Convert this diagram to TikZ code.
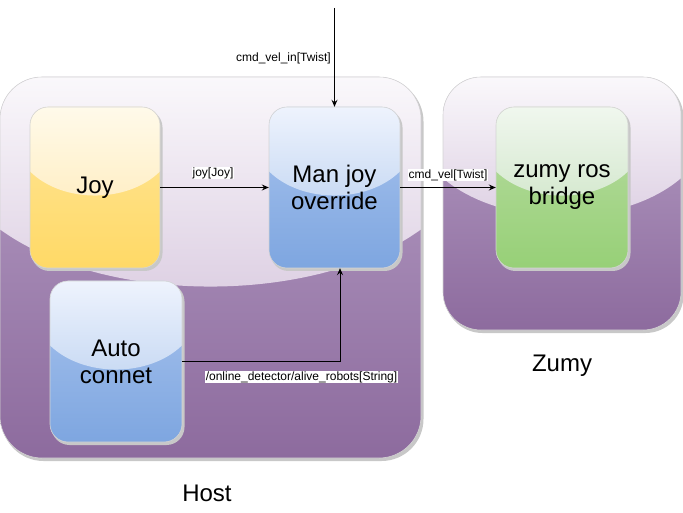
\documentclass[tikz,border=0pt]{standalone}
\usepackage{fontspec}
\setmainfont{Liberation Sans}
\usetikzlibrary{arrows.meta,calc}
\definecolor{shadowcol}{HTML}{C8C8C8}
\definecolor{edgecol}{HTML}{D4D4D4}
% purple container
\definecolor{pA}{HTML}{FAF8FB}\definecolor{pB}{HTML}{DCCEE2}
\definecolor{pC}{HTML}{B59EC4}\definecolor{pD}{HTML}{8D6B9E}
% yellow
\definecolor{yA}{HTML}{FFFAEA}\definecolor{yB}{HTML}{FFEEC4}
\definecolor{yC}{HTML}{FFE69A}\definecolor{yD}{HTML}{FFD966}
% blue
\definecolor{bA}{HTML}{EEF3FD}\definecolor{bB}{HTML}{C7D9F3}
\definecolor{bC}{HTML}{A9C4EE}\definecolor{bD}{HTML}{7EA6E0}
% green
\definecolor{gA}{HTML}{F0F7EE}\definecolor{gB}{HTML}{D4E8CE}
\definecolor{gC}{HTML}{B9DCA3}\definecolor{gD}{HTML}{97D077}
\newcommand{\glassbox}[9]{%
  \pgfmathsetmacro\gh{#4-#2}%
  \pgfmathsetmacro\gw{#3-#1}%
  \pgfmathsetmacro\gys{#2+0.4*\gh}%
  \pgfmathsetmacro\gyc{\gys+0.2*\gh}%
  \fill[shadowcol,rounded corners=#5] (#1+1.5,#2+2.5) rectangle (#3+2.5,#4+3);
  \shade[top color=#8,bottom color=#9,rounded corners=#5] (#1,#2) rectangle (#3,#4);
  \begin{scope}
    \clip[rounded corners=#5] (#1,#2) rectangle (#3,#4);
    \shade[top color=#6,bottom color=#7] (#1,#2) -- (#3,#2) -- (#3,\gys)
      .. controls (#3-0.25*\gw,\gyc) and (#1+0.25*\gw,\gyc) .. (#1,\gys) -- cycle;
  \end{scope}
  \draw[edgecol,line width=0.6pt,rounded corners=#5] (#1,#2) rectangle (#3,#4);
}
\tikzset{
  boxtext/.style={inner sep=0pt,align=center,font=\fontsize{24}{27}\selectfont},
  grouptext/.style={font=\fontsize{24}{28}\selectfont,inner sep=1pt},
  lbl/.style={fill=white,inner sep=0.5pt,font=\fontsize{12}{14}\selectfont},
  conn/.style={draw=black,line width=1pt,-{Stealth[length=7pt,width=6pt,inset=2.5pt]}},
}
\begin{document}
\begin{tikzpicture}[x=1pt,y=-1pt]
\useasboundingbox (0,0) rectangle (683,513);
% containers
\glassbox{0}{77}{421}{458}{42pt}{pA}{pB}{pC}{pD}
\glassbox{443}{77}{681}{330}{38pt}{pA}{pB}{pC}{pD}
% inner boxes
\glassbox{30}{107}{160}{268}{18pt}{yA}{yB}{yC}{yD}
\glassbox{269}{107}{400}{268}{18pt}{bA}{bB}{bC}{bD}
\glassbox{50}{281}{182}{442}{18pt}{bA}{bB}{bC}{bD}
\glassbox{496}{107}{628}{268}{18pt}{gA}{gB}{gC}{gD}
% text nodes
\node[boxtext,minimum width=130pt,minimum height=161pt] (joy) at (95,187.5) {Joy};
\node[boxtext,minimum width=131pt,minimum height=161pt] (man) at (334.5,187.5) {Man joy\\override};
\node[boxtext,minimum width=132pt,minimum height=161pt] (auto) at (116,361.5) {Auto\\connet};
\node[boxtext,minimum width=132pt,minimum height=161pt] (zumy) at (562,187.5) {zumy ros\\bridge};
\node[grouptext] (host) at (207,493) {Host};
\node[grouptext] (zumyg) at (562,366) {Zumy};
% connectors
\coordinate (src) at (334.5,8);
\draw[conn] (src) -- (man.north);
\node[lbl,anchor=east] (l1) at (331.5,58) {cmd\_vel\_in[Twist]};
\draw[conn] (joy.east) -- (man.west);
\node[lbl] (l2) at (213,173) {joy[Joy]};
\draw[conn] (man.east) -- (zumy.west);
\node[lbl] (l3) at (448,175) {cmd\_vel[Twist]};
\draw[conn] (auto.east) -| ([xshift=5.5pt]man.south);
\node[lbl] (l4) at (301.5,377) {/online\_detector/alive\_robots[String]};
\end{tikzpicture}
\end{document}
